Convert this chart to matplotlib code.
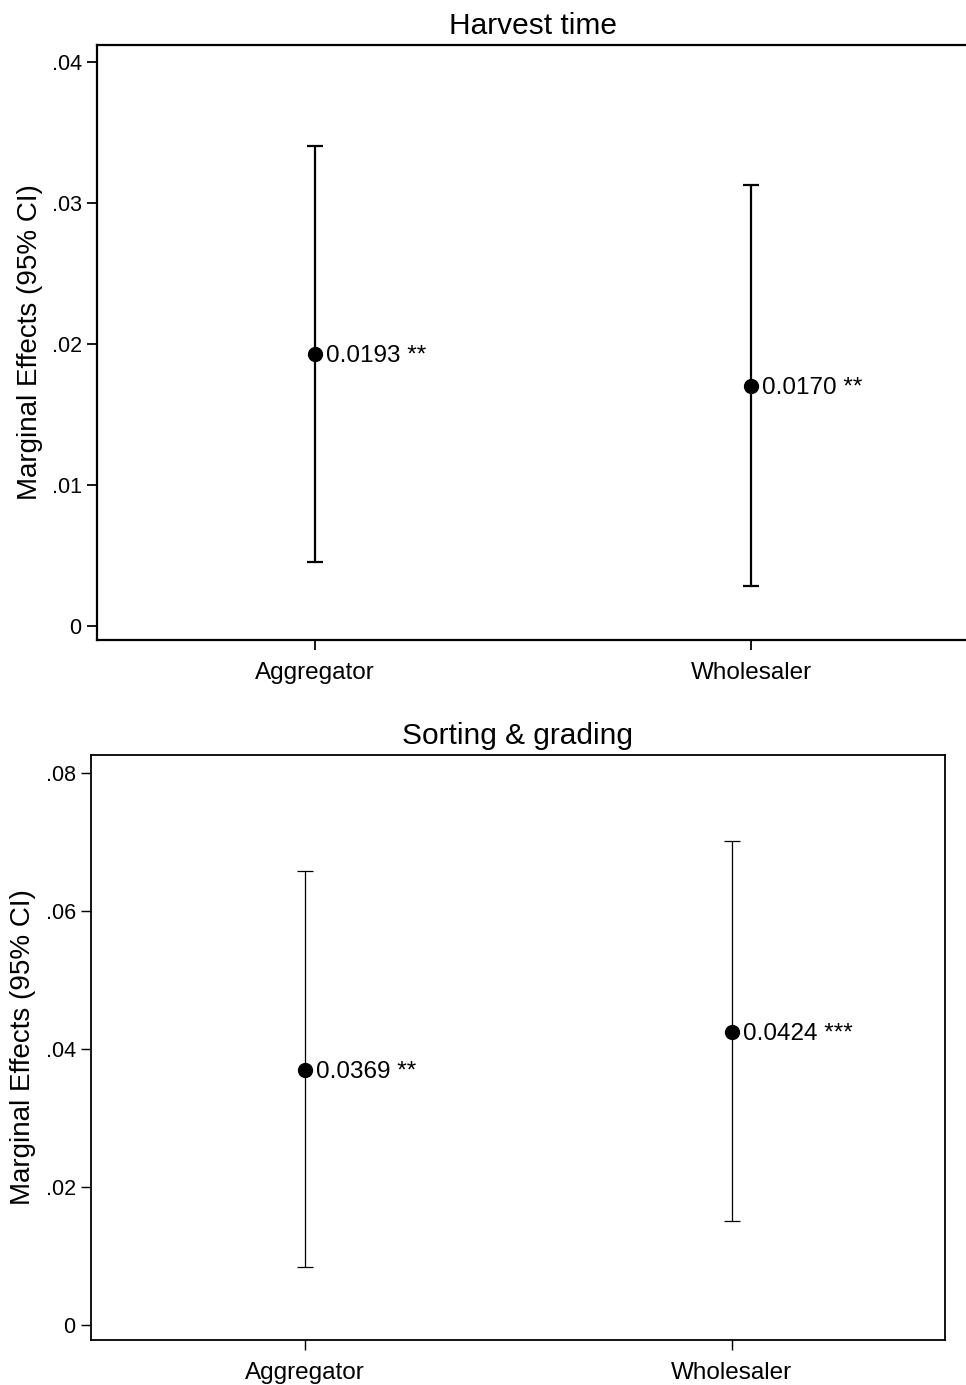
import matplotlib
matplotlib.use("Agg")
import matplotlib.pyplot as plt

plt.rcParams['font.family'] = ['Liberation Sans', 'DejaVu Sans']

categories = ["Aggregator", "Wholesaler"]

# Panel 1: Harvest time
harvest_est = [0.0193, 0.0170]
harvest_lo = [0.00454, 0.00284]
harvest_hi = [0.03404, 0.03128]
harvest_lab = ["0.0193 **", "0.0170 **"]

# Panel 2: Sorting & grading
sort_est = [0.0369, 0.0424]
sort_lo = [0.0084, 0.0151]
sort_hi = [0.0658, 0.0701]
sort_lab = ["0.0369 **", "0.0424 ***"]

harvest_yticks = [0, 0.01, 0.02, 0.03, 0.04]
harvest_yticklabels = ["0", ".01", ".02", ".03", ".04"]
sort_yticks = [0, 0.02, 0.04, 0.06, 0.08]
sort_yticklabels = ["0", ".02", ".04", ".06", ".08"]

W, H = 966, 1385
fig = plt.figure(figsize=(W / 100, H / 100), dpi=100)

def px_axes(left, top, right, bottom):
    return fig.add_axes([left / W, 1 - bottom / H, (right - left) / W, (bottom - top) / H])

ax1 = px_axes(97, 45, 969, 640)
ax2 = px_axes(91, 755, 945, 1340)

def draw(ax, est, lo, hi, labs, yticks, yticklabels, ylim, title, lw, spw, labx):
    xs = [1, 2]
    yerr = [[e - l for e, l in zip(est, lo)], [h - e for e, h in zip(est, hi)]]
    ax.errorbar(xs, est, yerr=yerr, fmt='o', color='black', ms=10,
                elinewidth=lw, capsize=6, capthick=lw, ecolor='black')
    for x, e, t in zip(xs, est, labs):
        ax.annotate(t, (x, e), xytext=(8, -1.5), textcoords='offset points',
                    va='center', ha='left', fontsize=17.5)
    ax.set_xlim(0.5, 2.5)
    ax.set_ylim(*ylim)
    ax.set_xticks(xs)
    ax.set_xticklabels(categories, fontsize=17.5)
    ax.set_yticks(yticks)
    ax.set_yticklabels(yticklabels, fontsize=15.5)
    ax.tick_params(axis='both', direction='out', length=7, width=spw * 0.8, pad=4)
    ax.tick_params(axis='x', pad=9)
    for s in ax.spines.values():
        s.set_linewidth(spw)
    ax.set_title(title, fontsize=21.5, pad=8)
    ax.set_ylabel("Marginal Effects (95% CI)", fontsize=20)
    ax.yaxis.set_label_coords(labx, 0.5)

draw(ax1, harvest_est, harvest_lo, harvest_hi, harvest_lab, harvest_yticks,
     harvest_yticklabels, (-0.001, 0.0412), "Harvest time", 1.6, 1.6, -0.062)
draw(ax2, sort_est, sort_lo, sort_hi, sort_lab, sort_yticks,
     sort_yticklabels, (-0.0022, 0.0826), "Sorting & grading", 0.9, 1.3, -0.064)

fig.savefig("out.png", dpi=100)
